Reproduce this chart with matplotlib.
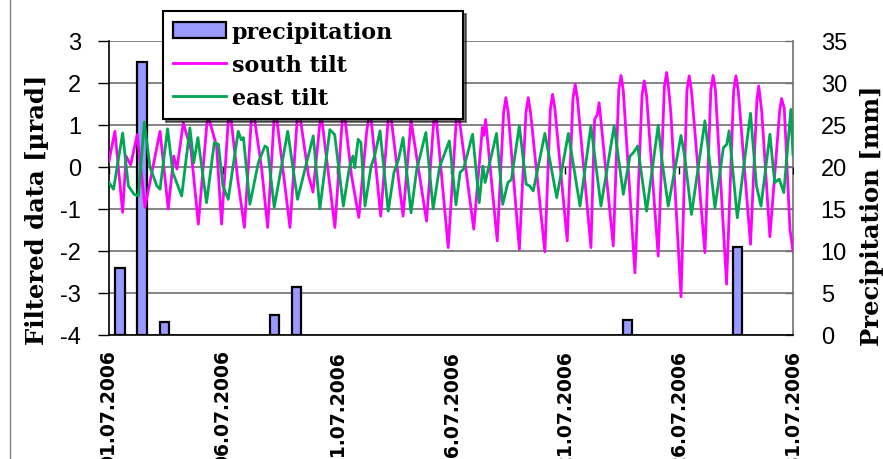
import numpy as np
import matplotlib
matplotlib.use('Agg')
import matplotlib.pyplot as plt
from matplotlib.lines import Line2D

plt.rcParams['axes.unicode_minus'] = False

# time in days since 01.07.2006 00:00
south_t = [0.0, 0.26, 0.6, 0.75, 0.95, 1.24, 1.58, 2.24, 2.6, 2.84, 2.98, 3.26, 3.6, 3.92,
           4.33, 4.72, 4.94, 5.28, 5.65, 5.94, 6.29, 6.7, 6.96, 7.28, 7.94, 8.3, 8.75, 8.95,
           9.3, 9.91, 10.28, 10.64, 10.96, 11.3, 11.45, 11.92, 12.3, 12.9, 13.25, 13.93, 14.3,
           14.88, 15.28, 16.0, 16.38, 16.44, 16.52, 17.03, 17.31, 17.41, 17.51, 18.0, 18.29,
           18.39, 18.49, 19.12, 19.36, 19.46, 19.56, 20.1, 20.35, 20.45, 20.55, 21.14, 21.3,
           21.42, 21.5, 22.12, 22.36, 22.46, 22.56, 23.07, 23.38, 23.48, 23.58, 24.09, 24.36,
           24.46, 24.56, 24.65, 25.09, 25.35, 25.45, 25.55, 26.14, 26.4, 26.5, 26.6, 27.09,
           27.4, 27.5, 27.6, 28.14, 28.42, 28.5, 28.63, 28.99, 29.42, 29.5, 29.62, 29.87, 30.0]
south_v = [0.14, 0.85, -1.08, 0.26, 0.05, 0.77, -0.96, 0.85, -1.0, 0.26, -0.05, 1.05, 0.4, -1.36,
           1.25, 0.5, -1.36, 1.5, -0.3, -1.44, 1.5, -0.05, -1.44, 1.5, -1.44, 1.5, -0.2, -0.6,
           1.3, -1.44, 1.5, -0.21, -1.2, 0.82, 1.4, -1.17, 1.5, -1.17, 1.1, -1.29, 1.5,
           -1.92, 1.5, -1.48, 0.94, 0.75, 1.13, -1.76, 1.3, 1.65, 1.3, -1.96, 1.3,
           1.65, 1.3, -2.02, 1.38, 1.73, 1.38, -1.76, 1.62, 1.97, 1.62, -1.92, 1.13,
           1.25, 1.53, -1.88, 1.83, 2.18, 1.81, -2.52, 1.7, 2.05, 1.7, -2.12, 1.9,
           2.25, 1.8, 1.25, -3.09, 1.82, 2.17, 1.82, -2.04, 1.83, 2.18, 1.83, -2.79,
           1.82, 2.17, 1.82, -1.84, 1.6, 1.93, 1.33, -1.66, 1.35, 1.63, 1.4, -1.48, -2.0]

east_t = [0.0, 0.2, 0.6, 0.85, 1.1, 1.29, 1.55, 1.8, 2.1, 2.24, 2.57, 2.8, 3.19, 3.55, 3.72,
          3.9, 4.28, 4.62, 4.8, 5.0, 5.23, 5.67, 5.8, 5.9, 6.18, 6.55, 6.84, 6.95, 7.25, 7.84,
          8.27, 8.96, 9.25, 9.69, 9.9, 10.28, 10.55, 10.7, 10.78, 10.93, 11.05, 11.23, 11.5,
          11.65, 11.89, 12.25, 12.5, 12.7, 12.9, 13.25, 13.5, 13.9, 14.22, 14.5, 14.93, 15.22,
          15.4, 15.55, 15.95, 16.24, 16.4, 16.5, 17.0, 17.27, 17.5, 17.65, 18.0, 18.3, 18.45,
          18.61, 19.12, 19.64, 20.15, 20.66, 21.14, 21.58, 22.16, 22.56, 22.85, 23.0, 23.19,
          23.58, 24.09, 24.25, 24.53, 25.09, 25.25, 25.55, 26.14, 26.58, 26.95, 27.1, 27.2,
          27.56, 28.14, 28.4, 28.6, 28.99, 29.2, 29.4, 29.6, 29.91, 30.0]
east_v = [-0.37, -0.53, 0.81, -0.45, -0.65, -0.69, 1.07, 0.0, -0.45, -0.53, 0.91, -0.13, -0.69,
          0.93, 0.1, 0.7, -0.85, 0.58, 0.54, -0.45, -0.77, 0.85, 0.65, 0.7, -0.89, 0.1, 0.5,
          0.46, -0.96, 0.85, -0.77, 0.74, -1.0, 0.89, 0.77, -0.93, 0.0, 0.26, -0.02, 0.66,
          0.58, -0.93, 0.02, 0.26, 0.86, -1.05, -0.13, 0.18, 0.7, -1.09, -0.06, 0.82, -1.0,
          0.0, 0.62, -0.9, -0.13, -0.05, 0.78, -0.85, 0.02, -0.37, 0.8, -0.89, -0.37, -0.3,
          0.98, -0.41, -0.45, -0.57, 0.8, -0.73, 0.8, -0.93, 0.98, -0.93, 0.98, -0.65, 0.26,
          0.34, 0.5, -1.05, 0.99, 0.18, -0.93, 0.75, 0.26, -1.13, 1.1, -0.97, 0.46, 0.54,
          0.86, -1.21, 1.28, -0.45, -0.93, 0.78, -0.37, -0.29, -0.61, 1.37, 0.3]

# daily precipitation (day of month, mm)
rain_day = [1, 2, 3, 8, 9, 24, 29]
rain_mm = [8.0, 32.5, 1.6, 2.4, 5.7, 1.8, 10.5]

date_ticks = [0, 5, 10, 15, 20, 25, 30]
date_labels = ['01.07.2006', '06.07.2006', '11.07.2006', '16.07.2006',
               '21.07.2006', '26.07.2006', '31.07.2006']

SERIF = 'DejaVu Serif'
SANS = 'Liberation Sans'

fig = plt.figure(figsize=(8.83, 4.6), dpi=100)
ax = fig.add_axes([0.1234, 0.2696, 0.7746, 0.6391])
ax2 = ax.twinx()
ax2.set_zorder(ax.get_zorder() - 1)
ax.patch.set_visible(False)

# bars sit on a 31-day category axis spread over the 30-day time span
rain_x = (np.array(rain_day) - 0.5) * 30 / 31
bars = ax2.bar(rain_x, rain_mm, width=0.4, color='#9999FF', edgecolor='black',
               linewidth=1.6, label='precipitation', zorder=3)
ax2.set_ylim(0, 35)
ax2.set_yticks(range(0, 36, 5))
ax2.yaxis.grid(True, color='#707070', linewidth=1.2)
ax2.set_axisbelow(True)

l1, = ax.plot(south_t, south_v, color='#FF00FF', lw=2.0, label='south tilt', zorder=4)
l2, = ax.plot(east_t, east_v, color='#00A651', lw=2.0, label='east tilt', zorder=5)
ax.plot(date_ticks, np.zeros(len(date_ticks)), ls='', marker=3, ms=5, color='black', mew=1)

ax.set_xlim(0, 30)
ax.set_ylim(-4, 3)
ax.set_yticks(range(-4, 4))
ax.set_xticks(date_ticks)
ax.set_xticklabels(date_labels, rotation=90, fontsize=13.5, fontweight='bold',
                   family='DejaVu Sans')
ax.tick_params(axis='x', length=0, pad=10)
ax.tick_params(axis='y', direction='out', length=8, width=1, labelsize=17, pad=12)
ax2.tick_params(axis='y', direction='in', length=6, width=1, labelsize=17, pad=20,
                color='#707070')
for lab in ax.get_yticklabels() + ax2.get_yticklabels():
    lab.set_family(SANS)

for sp in ['top', 'right']:
    ax.spines[sp].set_visible(False)
ax.spines['left'].set_linewidth(1.2)
ax.spines['bottom'].set_linewidth(1.2)
ax2.spines['top'].set_visible(False)
ax2.spines['left'].set_visible(False)
ax2.spines['bottom'].set_visible(False)
ax2.spines['right'].set_color('#707070')
ax2.spines['right'].set_linewidth(1.2)

ax.set_ylabel('Filtered data [µrad]', family=SERIF, fontweight='bold', fontsize=17.5)
ax.yaxis.set_label_coords(-0.088, 0.43)
ax2.set_ylabel('Precipitation [mm]', family=SERIF, fontweight='bold', fontsize=17.5)
ax2.yaxis.set_label_coords(1.098, 0.41)

leg = ax.legend([bars, l1, l2], ['precipitation', 'south tilt', 'east tilt'],
                loc='upper left', bbox_to_anchor=(0.079, 0.758, 0.439, 0.344),
                mode='expand',
                prop={'family': SERIF, 'weight': 'bold', 'size': 16},
                frameon=True, fancybox=False, framealpha=1, edgecolor='black',
                shadow={'color': 'black'}, handlelength=2.4, handleheight=0.7,
                labelspacing=0.5, borderpad=0.45, handletextpad=0.25, borderaxespad=0)
leg.get_frame().set_linewidth(1.5)
leg.set_zorder(10)

# outer chart border on the left
fig.add_artist(Line2D([0.011, 0.011], [0, 1], color='#808080', lw=1))

fig.savefig('out.png', dpi=100)
